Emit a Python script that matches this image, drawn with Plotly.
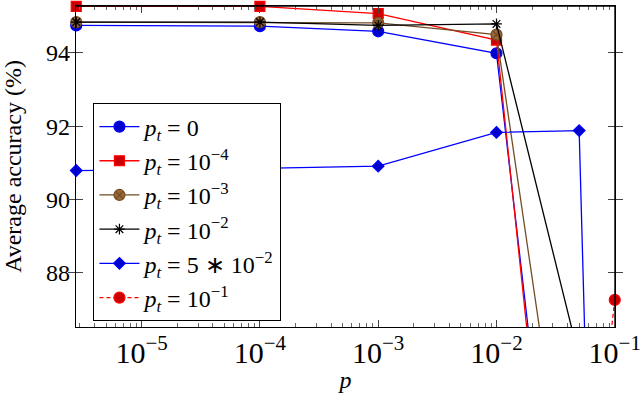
import math
import plotly.graph_objects as go

# ---- data ----
p_values = [2.8e-6, 1e-4, 1e-3, 1e-2, 5e-2, 1e-1]
acc_pt_0 = [94.75, 94.73, 94.59, 93.99, 74.4, 60.0]
acc_pt_1e4 = [95.27, 95.27, 95.07, 94.35, 72.9, 58.0]
acc_pt_1e3 = [94.84, 94.84, 94.82, 94.50, 79.1, 62.0]
acc_pt_1e2 = [94.84, 94.84, 94.75, 94.79, 85.67, 65.0]
acc_pt_5e2 = [90.79, 90.85, 90.91, 91.83, 91.88, 56.4]
acc_pt_1e1 = [80.0, 80.1, 80.0, 79.5, 78.6, 87.26]

series_names = [
    "<i>p</i><sub><i>t</i></sub> = 0",
    "<i>p</i><sub><i>t</i></sub> = 10<sup>−4</sup>",
    "<i>p</i><sub><i>t</i></sub> = 10<sup>−3</sup>",
    "<i>p</i><sub><i>t</i></sub> = 10<sup>−2</sup>",
    "<i>p</i><sub><i>t</i></sub> = 5 ∗ 10<sup>−2</sup>",
    "<i>p</i><sub><i>t</i></sub> = 10<sup>−1</sup>",
]
y_min, y_max = 86.52, 95.28
y_ticks = [88, 90, 92, 94]

# ---- styles (pgfplots default cycle) ----
styles = [
    dict(line="#0000ff", fill="#0000cc", symbol="circle", size=11, dash="solid"),
    dict(line="#ff0000", fill="#cc0000", symbol="square", size=10, dash="solid"),
    dict(line="#734d26", fill="#996633", symbol="circle-x", size=11, dash="solid"),
    dict(line="#000000", fill="#000000", symbol="asterisk-open", size=9, dash="solid"),
    dict(line="#0000ff", fill="#0000cc", symbol="diamond", size=9, dash="solid"),
    dict(line="#ff0000", fill="#cc0000", symbol="circle", size=11, dash="4px,3px"),
]
all_series = [acc_pt_0, acc_pt_1e4, acc_pt_1e3, acc_pt_1e2, acc_pt_5e2, acc_pt_1e1]

x_range = [math.log10(p_values[0]) - 0.002, math.log10(p_values[-1]) + 0.002]
minor_tickvals = [d * 10.0 ** k for k in range(-6, -1) for d in range(2, 10)
                  if x_range[0] <= math.log10(d * 10.0 ** k) <= x_range[1]]

FONT = '"Liberation Serif", "Times New Roman", serif'
fig = go.Figure()
for i, (name, ys, st) in enumerate(zip(series_names, all_series, styles)):
    fig.add_trace(go.Scatter(
        x=p_values, y=ys, name=name, mode="lines+markers", showlegend=False,
        legendgroup=f"s{i}",
        line=dict(color=st["line"], width=1.3, dash=st["dash"]),
        marker=dict(symbol=st["symbol"], size=st["size"], color=st["fill"],
                    line=dict(color=st["line"], width=1.2)),
        cliponaxis=False,
    ))
# legend entries
for i, (name, st) in enumerate(zip(series_names, styles)):
    fig.add_trace(go.Scatter(
        x=[None], y=[None], name=name, mode="lines+markers", legendgroup=f"s{i}",
        line=dict(color=st["line"], width=1.3, dash=st["dash"]),
        marker=dict(symbol=st["symbol"], size=st["size"], color=st["fill"],
                    line=dict(color=st["line"], width=1.2)),
    ))
# carrier for the minor-tick axis (draws nothing)
fig.add_trace(go.Scatter(x=[1e-3], y=[None], xaxis="x2", yaxis="y", mode="markers",
                         showlegend=False, hoverinfo="skip"))

frame = dict(color="black", width=1.4)
fig.update_layout(
    width=640, height=393,
    margin=dict(l=76, r=25, t=6, b=66, autoexpand=False),
    paper_bgcolor="white", plot_bgcolor="rgba(0,0,0,0)",
    font=dict(family=FONT, size=24, color="black"),
    showlegend=True,
    legend=dict(
        x=0.032, y=0.697, xanchor="left", yanchor="top",
        bgcolor="white", bordercolor="black", borderwidth=1.2,
        font=dict(family=FONT, size=24, color="black"),
        itemwidth=40, tracegroupgap=0,
    ),
    shapes=[
        dict(type="line", xref="paper", yref="paper", x0=1, x1=1, y0=0, y1=1,
             line=frame, layer="above"),
        dict(type="line", xref="paper", yref="paper", x0=0, x1=1, y0=1, y1=1,
             line=frame, layer="above"),
    ],
    xaxis2=dict(
        type="log", overlaying="x", anchor="y", side="bottom", range=x_range,
        tickmode="array", tickvals=minor_tickvals, showticklabels=False,
        ticks="inside", ticklen=4, tickcolor="#666", mirror="allticks",
        showline=False, showgrid=False, zeroline=False, automargin=False,
    ),
)
fig.layout.xaxis.update(
    type="log", range=x_range,
    dtick=1, exponentformat="power", showexponent="all", automargin=False,
    ticks="inside", ticklen=7, tickcolor="#444", mirror="allticks",
    showline=True, linecolor="black", linewidth=1.2,
    showgrid=False, zeroline=False, ticklabeloverflow="allow",
    tickfont=dict(family=FONT, size=24),
    title=dict(text="<i>p</i>", font=dict(family=FONT, size=24), standoff=6),
)
fig.update_yaxes(
    range=[y_min, y_max], tickvals=y_ticks, automargin=False,
    ticks="inside", ticklen=7, tickcolor="#444", mirror="allticks",
    showline=True, linecolor="black", linewidth=1.2,
    showgrid=False, zeroline=False,
    tickfont=dict(family=FONT, size=24),
    title=dict(text="Average accuracy (%)", font=dict(family=FONT, size=24), standoff=18),
)

fig.write_html("out.html", config={"displayModeBar": False},
               post_script="document.body.style.margin='0';document.body.style.overflow='hidden';")
